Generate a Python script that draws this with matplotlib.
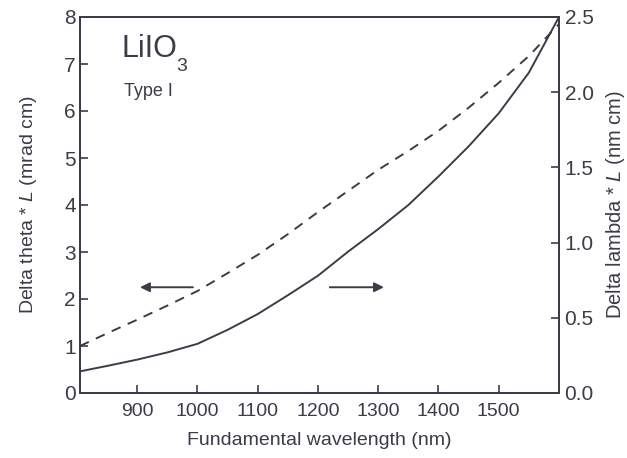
import matplotlib
matplotlib.use("Agg")
import matplotlib.pyplot as plt
import numpy as np

plt.rcParams['font.family'] = ['Liberation Sans', 'DejaVu Sans']
plt.rcParams['mathtext.fontset'] = 'custom'
plt.rcParams['mathtext.rm'] = 'Liberation Sans'
plt.rcParams['mathtext.it'] = 'Liberation Sans:italic'

# Data
wavelength = [805, 850, 900, 950, 1000, 1050, 1100, 1150, 1200, 1250,
              1300, 1350, 1400, 1450, 1500, 1550, 1600]
delta_theta_L = [1.0, 1.27, 1.56, 1.86, 2.17, 2.55, 2.94, 3.38, 3.85, 4.3,
                 4.75, 5.15, 5.58, 6.07, 6.6, 7.17, 7.85]
delta_lambda_L = [0.144, 0.18, 0.222, 0.27, 0.327, 0.42, 0.525, 0.65, 0.78, 0.94,
                  1.09, 1.25, 1.44, 1.64, 1.86, 2.13, 2.5]

x_ticks = [900, 1000, 1100, 1200, 1300, 1400, 1500]
left_ticks = [0, 1, 2, 3, 4, 5, 6, 7, 8]
right_ticks = [0.0, 0.5, 1.0, 1.5, 2.0, 2.5]

ink = '#3f3a48'

fig = plt.figure(figsize=(6.27, 4.58), dpi=100)
ax = fig.add_axes([80/627, 65/458, 479/627, 376/458])
ax2 = ax.twinx()

ax.plot(wavelength, delta_theta_L, color=ink, lw=1.4, ls=(0, (5, 4)))
ax2.plot(wavelength, delta_lambda_L, color=ink, lw=1.4)

ax.set_xlim(805, 1600)
ax.set_ylim(0, 8)
ax2.set_ylim(0, 2.5)

ax.set_xticks(x_ticks)
ax.set_yticks(left_ticks)
ax2.set_yticks(right_ticks)
ax2.set_yticklabels([f"{v:.1f}" for v in right_ticks])

for a in (ax, ax2):
    for s in a.spines.values():
        s.set_color(ink)
        s.set_linewidth(1.4)
ax.tick_params(axis='x', direction='in', length=6, width=1.2, color=ink,
               labelsize=14, labelcolor=ink, pad=7)
ax.tick_params(axis='y', direction='in', length=6, width=1.2, color=ink,
               labelsize=15, labelcolor=ink, pad=3)
ax2.tick_params(axis='y', direction='in', length=6, width=1.2, color=ink,
                labelsize=15, labelcolor=ink, pad=4)

ax.set_xlabel('Fundamental wavelength (nm)', fontsize=14, color=ink, labelpad=9)
ax.set_ylabel('Delta theta * $\\mathit{L}$ (mrad cm)', fontsize=14, color=ink, labelpad=18)
ax2.set_ylabel('Delta lambda * $\\mathit{L}$ (nm cm)', fontsize=14.5, color=ink, labelpad=7)

ax.text(0.087, 0.894, 'LiIO', transform=ax.transAxes, fontsize=22,
        color=ink, ha='left', va='baseline')
ax.text(0.201, 0.857, '3', transform=ax.transAxes, fontsize=14,
        color=ink, ha='left', va='baseline')
ax.text(0.092, 0.789, 'Type I', transform=ax.transAxes, fontsize=13,
        color=ink, ha='left', va='baseline')

arrow_props = dict(arrowstyle='-|>', color=ink, lw=1.4, mutation_scale=14)
ax.annotate('', xy=(900, 2.25), xytext=(997, 2.25), arrowprops=arrow_props)
ax.annotate('', xy=(1314, 2.25), xytext=(1215, 2.25), arrowprops=arrow_props)

fig.savefig('out.png', dpi=100)
